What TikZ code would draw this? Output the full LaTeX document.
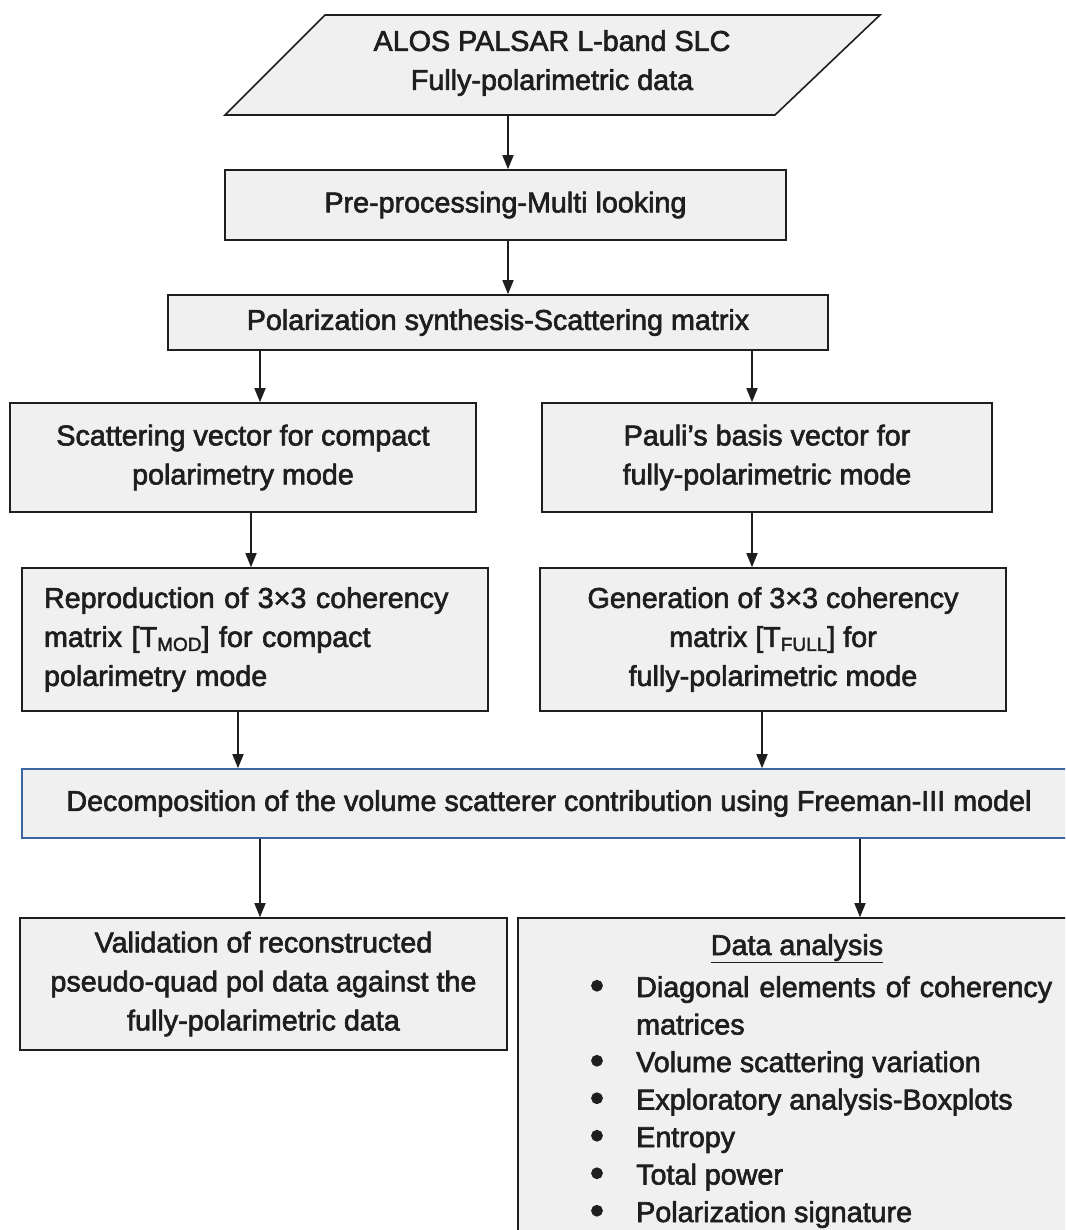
\documentclass[tikz,border=0pt]{standalone}
\usepackage{fontspec}
\setmainfont{Liberation Sans}[FakeBold=2.2]
\usetikzlibrary{arrows.meta}
\definecolor{boxfill}{RGB}{240,240,240}
\definecolor{boxline}{RGB}{30,30,30}
\definecolor{blueline}{RGB}{60,100,160}
\newcommand\mfnt{\fontsize{28.7}{39}\selectfont}
\newcommand\subtxt[1]{\raisebox{-4pt}{\fontsize{19}{19}\selectfont #1}}
\newcommand\bigbullet{{\fontsize{40}{40}\selectfont\textbullet}}
\begin{document}
\begin{tikzpicture}[x=1pt,y=-1pt,
  box/.style={draw=boxline, fill=boxfill, line width=1.6pt, inner sep=0pt, font=\mfnt, align=center, text=boxline},
  arr/.style={-{Triangle[length=14pt,width=11pt]}, line width=1.6pt, draw=boxline},
  txt/.style={font=\mfnt, text=boxline, inner sep=0pt}]
\useasboundingbox (0,0) rectangle (1065,1230);
\clip (0,0) rectangle (1065,1230);
\fill[white] (0,0) rectangle (1065,1230);
% source parallelogram
\draw[draw=boxline, fill=boxfill, line width=1.6pt] (225,115) -- (775,115) -- (880,15) -- (325,15) -- cycle;
\node[txt, align=center] (src) at (552,63) {ALOS PALSAR L-band SLC\\Fully-polarimetric data};
\coordinate (srcb) at (508,115);
% boxes
\node[box, minimum width=561, minimum height=70] (pre) at (505.5,205) {Pre-processing-Multi looking};
\node[box, minimum width=660, minimum height=55] (pol) at (498,322.5) {Polarization synthesis-Scattering matrix};
\node[box, minimum width=466, minimum height=109] (scat) at (243,457.5) {Scattering vector for compact\\polarimetry mode};
\node[box, minimum width=450, minimum height=109] (pauli) at (767,457.5) {Pauli’s basis vector for\\fully-polarimetric mode};
\node[box, text width=422, inner xsep=22, align=left, minimum height=143] (repro) at (255,639.5) {Reproduction of 3×3 coherency\\matrix [T\subtxt{MOD}] for compact\\polarimetry mode};
\node[box, minimum width=466, minimum height=143] (gen) at (773,639.5) {Generation of 3×3 coherency\\matrix [T\subtxt{FULL}] for\\fully-polarimetric mode};
\node[box, draw=blueline, minimum width=1058, minimum height=69] (free) at (551,803.5) {\hspace*{-4pt}Decomposition of the volume scatterer contribution using Freeman-III model};
\node[box, minimum width=487, minimum height=132] (valid) at (263.5,984) {Validation of reconstructed\\pseudo-quad pol data against the\\fully-polarimetric data};
\node[box, minimum width=562, minimum height=327] (data) at (799,1081.5) {};
% data analysis contents
\node[txt, anchor=base] (dtitle) at (797,955) {\underline{Data analysis}};
\node[txt, anchor=base] (b1) at (597,999) {\bigbullet};
\node[txt, anchor=base west] (l1) at (636,997) {\makebox[416pt][s]{Diagonal elements of coherency}};
\node[txt, anchor=base west] (l2) at (636,1034.5) {matrices};
\node[txt, anchor=base] (b3) at (597,1074) {\bigbullet};
\node[txt, anchor=base west] (l3) at (636,1072) {Volume scattering variation};
\node[txt, anchor=base] (b4) at (597,1111.5) {\bigbullet};
\node[txt, anchor=base west] (l4) at (636,1109.5) {Exploratory analysis-Boxplots};
\node[txt, anchor=base] (b5) at (597,1149) {\bigbullet};
\node[txt, anchor=base west] (l5) at (636,1147) {Entropy};
\node[txt, anchor=base] (b6) at (597,1186.5) {\bigbullet};
\node[txt, anchor=base west] (l6) at (636,1184.5) {Total power};
\node[txt, anchor=base] (b7) at (597,1224) {\bigbullet};
\node[txt, anchor=base west] (l7) at (636,1222) {Polarization signature};
% connectors
\draw[arr] (srcb) -- (srcb |- pre.north);
\draw[arr] ([xshift=2.5]pre.south) -- ([xshift=10]pol.north);
\draw[arr] ([xshift=-238]pol.south) -- ([xshift=17]scat.north);
\draw[arr] ([xshift=254]pol.south) -- ([xshift=-15]pauli.north);
\draw[arr] ([xshift=8]scat.south) -- ([xshift=-4]repro.north);
\draw[arr] ([xshift=-15]pauli.south) -- ([xshift=-21]gen.north);
\draw[arr] ([xshift=-17]repro.south) -- ([xshift=-313]free.north);
\draw[arr] ([xshift=-11]gen.south) -- ([xshift=211]free.north);
\draw[arr] ([xshift=-291]free.south) -- ([xshift=-3.5]valid.north);
\draw[arr] ([xshift=309]free.south) -- ([xshift=61]data.north);
\end{tikzpicture}
\end{document}
